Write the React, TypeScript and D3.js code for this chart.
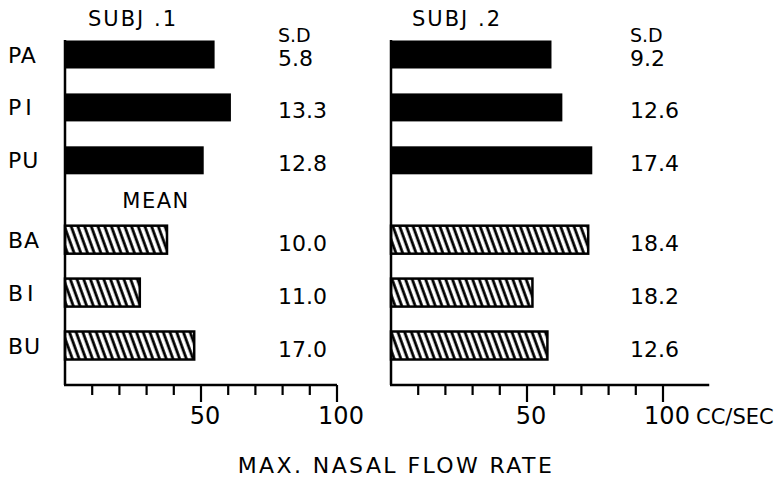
import React from 'react';
import * as d3 from 'd3';

// categories (top group = P*, bottom group = B*, the "MEAN" rows)
const categories = ['PA', 'PI', 'PU', 'BA', 'BI', 'BU'];
const hatched = [false, false, false, true, true, true];

// max nasal flow rate, cc/sec
const subj1Values = [55, 61, 51, 37.5, 27.5, 47.5];
const subj2Values = [59, 63, 74, 72.5, 52, 57.5];

// standard deviations printed beside the bars
const subj1SD = ['5.8', '13.3', '12.8', '10.0', '11.0', '17.0'];
const subj2SD = ['9.2', '12.6', '17.4', '18.4', '18.2', '12.6'];

const panelTitles = ['SUBJ .1', 'SUBJ .2'];
const tickLabels = [50, 100];

const width = 780;
const height = 482;
const font = '"DejaVu Sans", sans-serif';
const baseY = 385;
const barH = 28;

// gap of half a row between the two groups
const slot = (i: number) => i + (i >= 3 ? 0.5 : 0);
const y = d3.scaleLinear().domain([0, 5.5]).range([54.5, 345.5]);

type PanelProps = {
	x: d3.ScaleLinear<number, number>;
	values: number[];
	sd: string[];
	sdX: number;
	title: string;
	titleX: number;
	axisMax: number;
	unit?: boolean;
};

function Panel({ x, values, sd, sdX, title, titleX, axisMax, unit }: PanelProps) {
	const ticks = x.ticks(10).filter((t) => t > 0);
	return (
		<g>
			<text x={titleX} y={26} fontSize={21} letterSpacing={2}>
				{title}
			</text>
			<text x={sdX} y={42} fontSize={19}>
				S.D
			</text>
			{values.map((v, i) => (
				<rect
					key={categories[i]}
					x={x(0)}
					y={y(slot(i)) - barH / 2}
					width={x(v) - x(0)}
					height={barH}
					fill={hatched[i] ? 'url(#hatch)' : '#000'}
					stroke="#000"
					strokeWidth={hatched[i] ? 2.5 : 0}
				/>
			))}
			{sd.map((s, i) => (
				<text key={i} x={sdX} y={y(slot(i)) + 11} fontSize={22}>
					{s}
				</text>
			))}
			<line x1={x(0)} x2={x(0)} y1={40} y2={baseY} stroke="#000" strokeWidth={2.5} />
			<line x1={x(0) - 1} x2={x(axisMax)} y1={baseY} y2={baseY} stroke="#000" strokeWidth={2.5} />
			{ticks.map((t) => (
				<line
					key={t}
					x1={x(t)}
					x2={x(t)}
					y1={baseY}
					y2={baseY + (t % 50 === 0 ? 17 : 10)}
					stroke="#000"
					strokeWidth={2.2}
				/>
			))}
			{tickLabels.map((t) => (
				<text key={t} x={x(t) + 4} y={424} fontSize={24} textAnchor="middle">
					{t}
				</text>
			))}
			{unit && (
				<text x={x(100) + 33} y={424} fontSize={21}>
					CC/SEC
				</text>
			)}
		</g>
	);
}

export default function App() {
	const xLeft = d3.scaleLinear().domain([0, 100]).range([65, 337]);
	const xRight = d3.scaleLinear().domain([0, 100]).range([391, 663]);

	return (
		<svg
			width={width}
			height={height}
			style={{ position: 'absolute', left: 0, top: 0, background: '#fff' }}
			fontFamily={font}
		>
			<defs>
				<pattern
					id="hatch"
					width={6.3}
					height={10}
					patternUnits="userSpaceOnUse"
					patternTransform="rotate(-20)"
				>
					<rect width={6.3} height={10} fill="#fff" />
					<line x1={2} x2={2} y1={0} y2={10} stroke="#000" strokeWidth={2.8} />
				</pattern>
			</defs>
			{categories.map((c, i) => (
				<text key={c} x={8} y={y(slot(i)) + 8} fontSize={22} letterSpacing={c[1] === 'I' ? 4 : 1}>
					{c}
				</text>
			))}
			<text x={156} y={208} fontSize={21} textAnchor="middle" letterSpacing={1.5}>
				MEAN
			</text>
			<Panel
				x={xLeft}
				values={subj1Values}
				sd={subj1SD}
				sdX={278}
				title={panelTitles[0]}
				titleX={88}
				axisMax={100}
			/>
			<Panel
				x={xRight}
				values={subj2Values}
				sd={subj2SD}
				sdX={630}
				title={panelTitles[1]}
				titleX={412}
				axisMax={117}
				unit
			/>
			<text x={396} y={473} fontSize={22} textAnchor="middle" letterSpacing={2.4}>
				MAX. NASAL FLOW RATE
			</text>
		</svg>
	);
}
